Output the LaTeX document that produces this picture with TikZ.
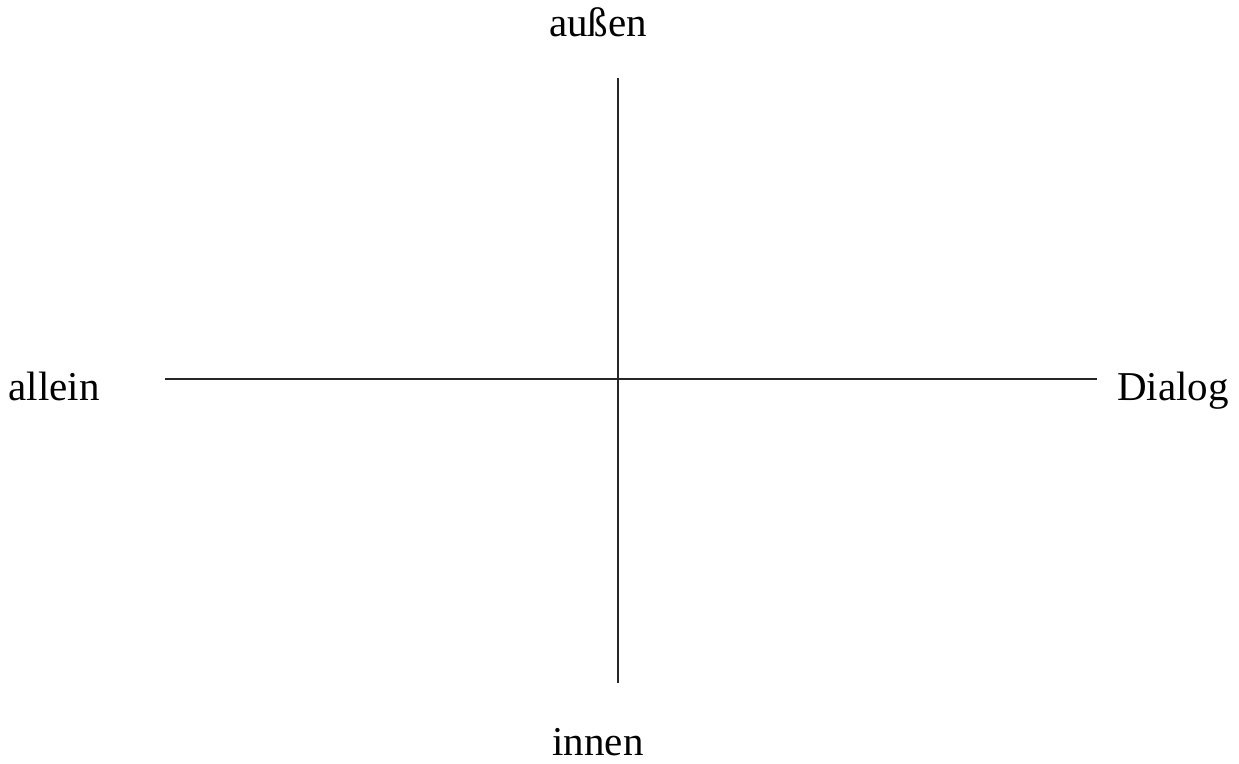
\documentclass[tikz,border=0pt]{standalone}
\usepackage{fontspec}
\setmainfont{Liberation Serif}
\begin{document}
\begin{tikzpicture}[x=1pt,y=-1pt,
  axis/.style={line width=1.3pt,black!85},
  lbl/.style={inner sep=0pt,anchor=base,font=\fontsize{41}{48}\selectfont}]
\useasboundingbox (0,0) rectangle (1239,763);
\coordinate (L) at (165,379);
\coordinate (R) at (1097,379);
\coordinate (T) at (618,78);
\coordinate (B) at (618,683);
\draw[axis] (L) -- (R);
\draw[axis] (T) -- (B);
\node[lbl] (aussen) at (598,36) {außen};
\node[lbl] (innen) at (598,755) {innen};
\node[lbl] (allein) at (54,400) {allein};
\node[lbl] (dialog) at (1173,400) {Dialog};
\end{tikzpicture}
\end{document}
